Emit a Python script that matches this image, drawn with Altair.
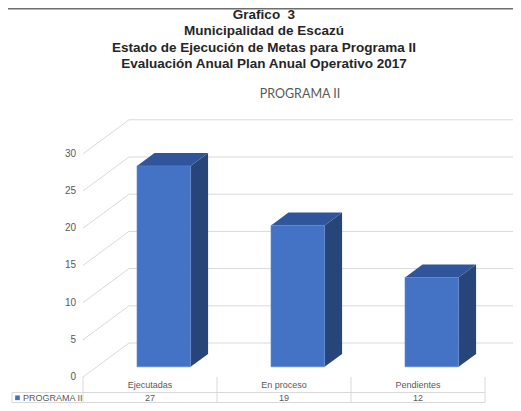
import altair as alt
import pandas as pd

# ---------------- data ----------------
categories = ["Ejecutadas", "En proceso", "Pendientes"]
values = [27, 19, 12]
series_name = "PROGRAMA II"
y_ticks = [0, 5, 10, 15, 20, 25, 30]
title_lines = [
    "Grafico\u00a0 3",
    "Municipalidad de Escazú",
    "Estado de Ejecución de Metas para Programa II",
    "Evaluación Anual Plan Anual Operativo 2017",
]
chart_title = "PROGRAMA II"

# ---------------- layout (pixel based 3-D projection) ----------------
PX_X = 134.0            # px per category slot
PX_Y = 7.44             # px per value unit
DEPTH_X = 46.0 / PX_X   # floor depth expressed in x units
DEPTH_Y = 34.0 / PX_Y   # floor depth expressed in value units
PAD_L, PAD_T = 75, 102
W, H = 430, 293          # whole svg: 505 x 395 (fits the window with the 8px page margin)
XMAX = W / PX_X
YMAX = (377 - (8 + PAD_T)) / PX_Y
YMIN = (377 - (8 + PAD_T + H)) / PX_Y

def px_x(p):  # page x -> x units
    return (p - 83) / PX_X

def px_y(p):  # page y -> value units
    return (377 - p) / PX_Y

xs = alt.Scale(domain=[0, XMAX], nice=False, zero=False)
ys = alt.Scale(domain=[YMIN, YMAX], nice=False, zero=False)

FRONT = "#4472C4"
TOP = "#30559B"
SIDE = "#284579"
GRID = "#D9D9D9"
LABEL = "#595959"
FONT = "Liberation Sans"

# bar geometry
D0, DD, BW = 0.30, 0.38, 0.40
front_rows, side_rows, top_rows = [], [], []
for i, (c, v) in enumerate(zip(categories, values)):
    left = i + 0.30 + D0 * DEPTH_X
    right = left + BW
    base = D0 * DEPTH_Y
    top = v + base
    ddx, ddy = DD * DEPTH_X, DD * DEPTH_Y
    front_rows.append(dict(cat=c, x=left, x2=right, y=base, y2=top))
    side_rows += [dict(cat=c, x=right, lo=base, hi=top),
                  dict(cat=c, x=right + ddx, lo=base + ddy, hi=top + ddy)]
    top_rows += [dict(cat=c, y=top, xl=left, xr=right),
                 dict(cat=c, y=top + ddy, xl=left + ddx, xr=right + ddx)]

# grid lines (back wall + left side wall)
grid_rows = []
for t in y_ticks:
    grid_rows.append(dict(x=DEPTH_X, x2=3 + DEPTH_X, y=t + DEPTH_Y, y2=t + DEPTH_Y))
    grid_rows.append(dict(x=0, x2=DEPTH_X, y=t, y2=t + DEPTH_Y))

# data table lines
t_mid, t_bot, t_left = px_y(392.5), px_y(402.5), px_x(12)
table_rows = [dict(x=i, x2=i, y=0, y2=t_bot) for i in range(4)]
table_rows += [dict(x=t_left, x2=3, y=t_mid, y2=t_mid),
               dict(x=t_left, x2=3, y=t_bot, y2=t_bot),
               dict(x=t_left, x2=t_left, y=t_mid, y2=t_bot)]

header_df = pd.DataFrame(dict(x=[i + 0.5 for i in range(3)], y=[px_y(385)] * 3, t=categories))
value_df = pd.DataFrame(dict(x=[i + 0.5 for i in range(3)], y=[px_y(398)] * 3, t=[str(v) for v in values]))
legend_df = pd.DataFrame(dict(x=[px_x(17.5)], xt=[px_x(23)], y=[px_y(397.8)], t=[series_name]))
ctitle_df = pd.DataFrame(dict(x=[px_x(300)], y=[px_y(94)], t=[chart_title]))
ytick_df = pd.DataFrame(dict(x=[px_x(76)] * len(y_ticks), y=y_ticks, t=[str(t) for t in y_ticks]))
title_df = pd.DataFrame(dict(x=[px_x(264)] * 4,
                             y=[px_y(p) for p in (14.5, 31, 47.5, 64)],
                             t=title_lines))

def XY(xf="x", yf="y"):
    return dict(x=alt.X(f"{xf}:Q", scale=xs, axis=None), y=alt.Y(f"{yf}:Q", scale=ys, axis=None))

grid = alt.Chart(pd.DataFrame(grid_rows + table_rows)).mark_rule(color=GRID, strokeWidth=1).encode(
    x2="x2:Q", y2="y2:Q", **XY())

side = alt.Chart(pd.DataFrame(side_rows)).mark_area(color=SIDE, opacity=1).encode(
    y2="hi:Q", detail="cat:N", **XY("x", "lo"))

topf = alt.Chart(pd.DataFrame(top_rows)).mark_area(color=TOP, opacity=1, orient="horizontal").encode(
    x2="xr:Q", detail="cat:N", **XY("xl", "y"))

front = alt.Chart(pd.DataFrame(front_rows)).mark_rect(color=FRONT, stroke="#5A86D6", strokeWidth=0.6).encode(
    x2="x2:Q", y2="y2:Q", **XY())

txt_kw = dict(fontSize=9, color=LABEL, font=FONT)
ylabels = alt.Chart(ytick_df).mark_text(align="right", fontSize=10, color=LABEL, font=FONT).encode(
    text="t:N", **XY())
headers = alt.Chart(header_df).mark_text(**txt_kw).encode(text="t:N", **XY())
vals = alt.Chart(value_df).mark_text(**txt_kw).encode(text="t:N", **XY())
leg_sq = alt.Chart(legend_df).mark_square(color=FRONT, size=22, opacity=1).encode(**XY())
leg_tx = alt.Chart(legend_df).mark_text(align="left", **txt_kw).encode(text="t:N", **XY("xt", "y"))
ctitle = alt.Chart(ctitle_df).mark_text(fontSize=12.5, color=LABEL, font="Lato").encode(text="t:N", **XY())
titles = alt.Chart(title_df).mark_text(fontSize=13.5, fontWeight="bold", color="#262626", font=FONT).encode(
    text="t:N", **XY())

border = alt.Chart(pd.DataFrame(dict(a=[0]))).mark_rule(color="#6E6E6E", strokeWidth=1.5).encode(
    x=alt.value(-PAD_L), x2=alt.value(W), y=alt.value(-PAD_T + 0.8), y2=alt.value(-PAD_T + 0.8))

chart = alt.layer(grid, side, topf, front, ylabels, headers, vals, leg_sq, leg_tx, ctitle, titles, border).properties(
    width=W, height=H,
    autosize=alt.AutoSizeParams(type="none"),
    padding={"left": PAD_L, "top": PAD_T, "right": 0, "bottom": 0},
    background="white",
).configure_view(stroke=None)

chart.save("out.html", embed_options={"renderer": "svg", "actions": False})
